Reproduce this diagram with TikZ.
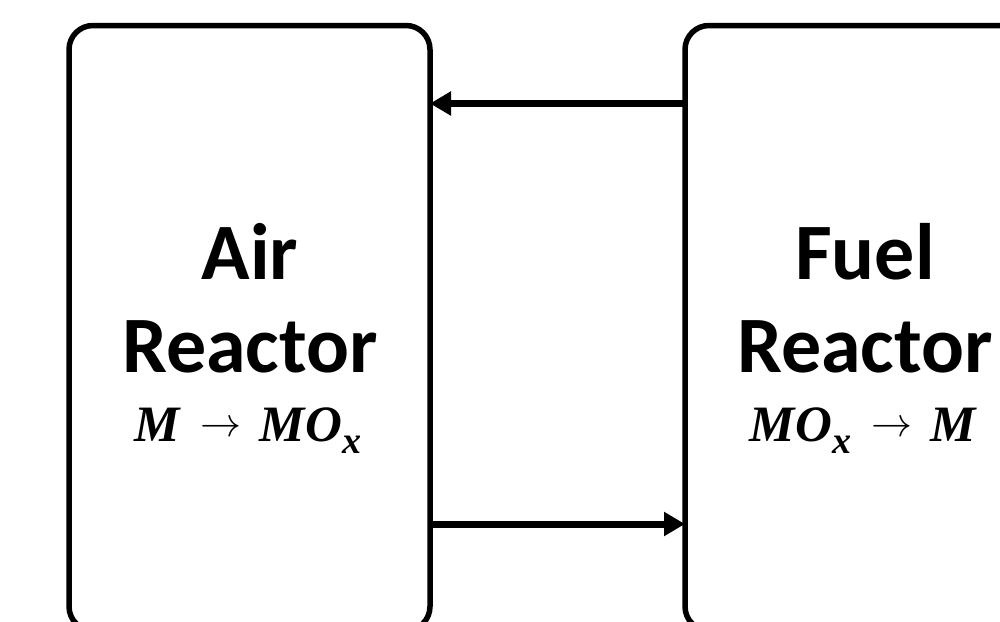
\documentclass[tikz,border=0pt]{standalone}
\usepackage{fontspec}
\usepackage{graphicx}
\setmainfont{Carlito}
\newfontfamily\eqfont{Liberation Serif}
\usetikzlibrary{arrows.meta}
\newcommand{\eqM}{{\eqfont\bfseries\itshape M}}
\newcommand{\eqO}{{\eqfont\bfseries\itshape O}}
\newcommand{\eqx}{\raisebox{-12pt}{\eqfont\bfseries\itshape\fontsize{38}{38}\selectfont x}}
\newcommand{\eqarrow}{\hspace{0.4em}\raisebox{5pt}{\resizebox{41pt}{!}{$\rightarrow$}}\hspace{0.36em}}
\begin{document}
\begin{tikzpicture}[x=1pt,y=-1pt,
  reactor/.style={draw,line width=5.5pt,rounded corners=24pt,inner sep=0pt,outer sep=0pt},
  flow/.style={line width=7pt,-{Triangle[length=21pt,width=23pt]}},
  title/.style={anchor=base,inner sep=0pt,font=\fontsize{80}{90}\selectfont\bfseries},
  eqn/.style={anchor=base,inner sep=0pt,font=\fontsize{51}{56}\selectfont}]
\useasboundingbox (0,0) rectangle (1000,621);
\clip (0,0) rectangle (1000,621);
\fill[white] (0,0) rectangle (1000,621);
\node[reactor,minimum width=361pt,minimum height=605pt] (air) at (249.5,328) {};
\node[reactor,minimum width=360pt,minimum height=605pt] (fuel) at (865,328) {};
\node[title] (airA) at (250,279) {Air};
\node[title] (airB) at (250,372) {Reactor};
\node[eqn] (airC) at (248,441) {\eqM\eqarrow\eqM\eqO\eqx};
\node[title] (fuelA) at (865,279) {Fuel};
\node[title] (fuelB) at (865,372) {Reactor};
\node[eqn] (fuelC) at (863,441) {\eqM\eqO\eqx\eqarrow\eqM};
\coordinate (ty) at (0,103.5);
\coordinate (by) at (0,524);
\draw[flow] (fuel.west |- ty) -- (air.east |- ty);
\draw[flow] (air.east |- by) -- (fuel.west |- by);
\end{tikzpicture}
\end{document}
